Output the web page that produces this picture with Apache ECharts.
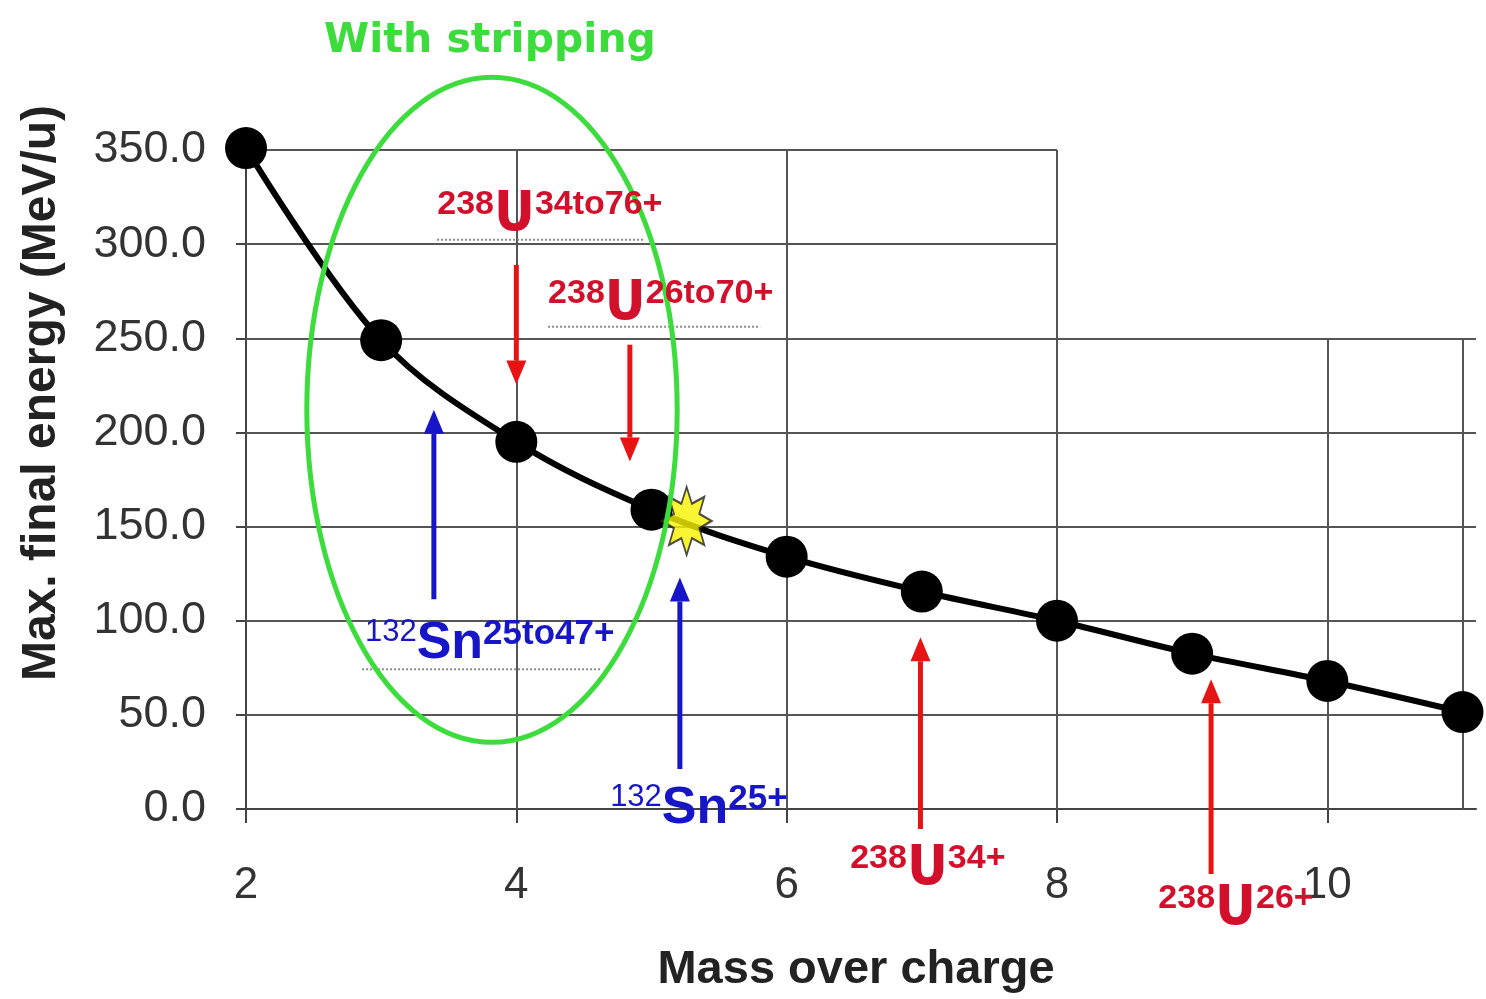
<!DOCTYPE html>
<html><head><meta charset="utf-8">
<script src="https://cdn.jsdelivr.net/npm/echarts@6/dist/echarts.min.js"></script>
<style>html,body{margin:0;padding:0;background:#fff}#c{width:1486px;height:999px}</style>
</head><body><div id="c"></div>
<script>
// ---- data ----
const massOverCharge = [2, 3, 4, 5, 6, 7, 8, 9, 10, 11];
const maxEnergy = [351, 249, 195, 159, 134, 115.5, 100, 82.5, 68, 51.5];
const starPoint = [5.26, 153];
const xTickValues = [2, 4, 6, 8, 10];
const yTickValues = [0, 50, 100, 150, 200, 250, 300, 350];

// annotation labels: [prefix, element, superscript]
const labelTexts = [
  ['238', 'U', '34to76+'],
  ['238', 'U', '26to70+'],
  ['132', 'Sn', '25to47+'],
  ['132', 'Sn', '25+'],
  ['238', 'U', '34+'],
  ['238', 'U', '26+']
];
// anchors (data coords, top-left of label)
const labelAnchors = [[3.415, 330], [4.235, 283], [2.88, 102], [4.694, 14.5], [6.47, -17.5], [8.75, -38.5]];
const labelKinds = ['U', 'U', 'Sn', 'Sn', 'U', 'U'];
const underlineSegs = [[[3.414, 302.3], [4.953, 302.3]], [[4.235, 256.1], [5.805, 256.1]], [[2.859, 74.2], [4.62, 74.2]]];
// arrows [from, to] data coords
const arrowSegs = [
  [[4.0, 289], [4.0, 225.4]],
  [[4.84, 246.6], [4.84, 184.5]],
  [[3.39, 111.4], [3.39, 212.1]],
  [[5.21, 21.2], [5.21, 123]],
  [[6.99, -10.6], [6.99, 91.2]],
  [[9.14, -34.5], [9.14, 68.9]]
];
const arrowKinds = ['red', 'red', 'blue', 'blue', 'red', 'red'];
// stripping ellipse: center, radii (data units)
const ellipseCenter = [3.82, 212];
const ellipseRadii = [1.37, 176.6];

// ---- styles ----
const RED = '#d2102c', ARROW_RED = '#e81414', BLUE = '#1616c8', GREEN = '#3ddc3d', GRID = '#555';

function starPath(n, rOut, rIn) {
  let d = '';
  for (let i = 0; i < 2 * n; i++) {
    const r = i % 2 === 0 ? rOut : rIn;
    const a = -Math.PI / 2 + i * Math.PI / n;
    d += (i === 0 ? 'M' : 'L') + (r * Math.cos(a)).toFixed(3) + ' ' + (r * Math.sin(a)).toFixed(3) + ' ';
  }
  return 'path://' + d + 'Z';
}

const gridLines = [];
[50, 100, 150, 200, 250].forEach(v => gridLines.push([{coord: [2, v]}, {coord: [11.1, v]}]));
[300, 350].forEach(v => gridLines.push([{coord: [2, v]}, {coord: [8, v]}]));
[4, 6, 8].forEach(v => gridLines.push([{coord: [v, 0]}, {coord: [v, 350]}]));
[10, 11].forEach(v => gridLines.push([{coord: [v, 0]}, {coord: [v, 250]}]));

const chart = echarts.init(document.getElementById('c'));
const baseFont = 'Liberation Sans, Arial, sans-serif';
chart.setOption({
  animation: false,
  backgroundColor: '#fff',
  title: {
    text: 'With stripping', left: 485, top: 16, textAlign: 'center',
    textStyle: {color: GREEN, fontSize: 41, fontWeight: 'bold', fontFamily: 'DejaVu Sans'}
  },
  grid: {left: 246, right: 10, top: 150, bottom: 189},
  xAxis: {
    type: 'value', min: 2, max: 11.1,
    name: 'Mass over charge', nameLocation: 'middle', nameGap: 138,
    nameTextStyle: {fontSize: 47, fontWeight: 'bold', color: '#222', fontFamily: baseFont, padding: [0, 10, 0, 0]},
    axisLine: {lineStyle: {color: '#444', width: 2}},
    axisTick: {show: true, customValues: xTickValues, length: 14, lineStyle: {color: '#444', width: 2}},
    axisLabel: {customValues: xTickValues, margin: 55, fontSize: 44, color: '#333', fontFamily: baseFont},
    splitLine: {show: false}
  },
  yAxis: {
    type: 'value', min: 0, max: 350, interval: 50,
    axisLine: {show: true, lineStyle: {color: '#444', width: 2}},
    axisTick: {show: true, length: 10, lineStyle: {color: '#444', width: 2}},
    axisLabel: {margin: 40, fontSize: 45, color: '#333', fontFamily: baseFont,
      formatter: v => v.toFixed(1)},
    splitLine: {show: false}
  },
  series: [
    {
      type: 'line', data: [], silent: true,
      markLine: {silent: true, symbol: 'none', label: {show: false},
        lineStyle: {color: GRID, width: 2, type: 'solid'}, data: gridLines}
    },
    {
      type: 'line', smooth: 0.35, z: 5, clip: false,
      data: massOverCharge.map((x, i) => [x, maxEnergy[i]]),
      symbol: 'circle', symbolSize: 42,
      lineStyle: {color: '#000', width: 6},
      itemStyle: {color: '#000'}
    },
    {
      type: 'scatter', z: 6, data: [starPoint],
      symbol: starPath(8, 1, 0.55), symbolSize: [50, 68],
      itemStyle: {color: '#f7f200', borderColor: '#222', borderWidth: 2}
    }
  ]
});

function px(p) { return chart.convertToPixel({gridIndex: 0}, p); }

const graphics = [];
// y axis title
graphics.push({type: 'text', x: 42, y: 393, rotation: Math.PI / 2, z: 50,
  style: {text: 'Max. final energy (MeV/u)', align: 'center', verticalAlign: 'middle',
    fill: '#222', font: 'bold 48px ' + baseFont}});
// ellipse
const ec = px(ellipseCenter);
const ex = px([ellipseCenter[0] + ellipseRadii[0], ellipseCenter[1] + ellipseRadii[1]]);
graphics.push({type: 'ellipse', z: 40,
  shape: {cx: ec[0], cy: ec[1], rx: Math.abs(ex[0] - ec[0]), ry: Math.abs(ex[1] - ec[1])},
  style: {fill: 'none', stroke: GREEN, lineWidth: 5}});
// underlines
underlineSegs.forEach(s => {
  const a = px(s[0]), b = px(s[1]);
  graphics.push({type: 'line', z: 30, shape: {x1: a[0], y1: a[1], x2: b[0], y2: b[1]},
    style: {stroke: '#8a8a8a', lineWidth: 2, lineDash: [2, 2]}});
});
// arrows
arrowSegs.forEach((s, i) => {
  const a = px(s[0]), b = px(s[1]);
  const col = arrowKinds[i] === 'red' ? ARROW_RED : BLUE;
  const dir = Math.sign(b[1] - a[1]);
  const head = 24, hw = 10;
  graphics.push({type: 'line', z: 45, shape: {x1: a[0], y1: a[1], x2: b[0], y2: b[1] - dir * head},
    style: {stroke: col, lineWidth: 5}});
  graphics.push({type: 'polygon', z: 45,
    shape: {points: [[b[0], b[1]], [b[0] - hw, b[1] - dir * head], [b[0] + hw, b[1] - dir * head]]},
    style: {fill: col}});
});
// labels
const condensed = 'DejaVu Sans Condensed, Liberation Sans Narrow, Liberation Sans';
const richU = {
  p: {fontSize: 34, fontWeight: 'bold', fontFamily: baseFont, fill: RED, verticalAlign: 'top', lineHeight: 56, padding: [0, 0, 18, 0]},
  m: {fontSize: 56, fontWeight: 'bold', fontFamily: condensed, fill: RED, lineHeight: 56},
  s: {fontSize: 34, fontWeight: 'bold', fontFamily: baseFont, fill: RED, verticalAlign: 'top', lineHeight: 56, padding: [0, 0, 18, 0]}
};
const richSn = {
  p: {fontSize: 31, fontFamily: baseFont, fill: BLUE, verticalAlign: 'top', lineHeight: 54, padding: [0, 0, 16, 0]},
  m: {fontSize: 52, fontWeight: 'bold', fontFamily: baseFont, fill: BLUE, lineHeight: 54},
  s: {fontSize: 35, fontWeight: 'bold', fontFamily: baseFont, fill: BLUE, verticalAlign: 'top', lineHeight: 54, padding: [0, 0, 16, 0]}
};
labelTexts.forEach((t, i) => {
  const p = px(labelAnchors[i]);
  graphics.push({type: 'text', x: p[0], y: p[1], z: 48,
    style: {text: '{p|' + t[0] + '}{m|' + t[1] + '}{s|' + t[2] + '}', align: 'left', verticalAlign: 'top',
      rich: labelKinds[i] === 'U' ? richU : richSn}});
});
chart.setOption({graphic: {elements: graphics}});
</script>
</body></html>
